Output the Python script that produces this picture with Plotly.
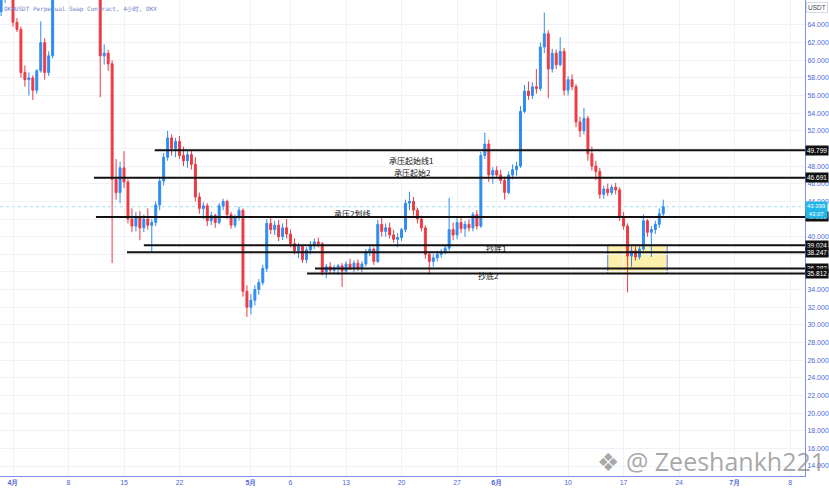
import pandas as pd
import plotly.graph_objects as go

# 12-hour candles, Mar 30 12:00 -> Jun 21 12:00 (2024)
opens = [65.5, 67.2, 67.8,
         67.0, 64.3, 63.5, 58.6, 57.8, 58.0, 56.6, 58.8, 62.0, 58.6,
         60.5, 67.0, 68.5, 69.6, 70.4, 71.8, 71.2, 70.0, 69.2, 69.8, 70.6, 70.0,
         68.6, 60.5, 60.8, 59.6,
         46.5, 45.0, 47.8, 46.2, 42.0, 41.2, 42.3, 41.0, 42.0, 41.3, 41.6, 43.6, 46.3, 49.0, 51.2, 50.0,
         50.8, 49.2, 48.6, 49.3, 48.2, 44.5, 43.2, 43.5, 41.8, 42.4, 41.6, 43.5, 44.0, 42.5, 41.3, 42.2,
         43.0, 33.8,
         32.0, 32.8, 34.0, 34.8, 36.4, 41.5, 40.8, 41.3, 40.0, 41.0, 40.3, 39.2, 38.4, 38.9, 37.4, 38.5,
         39.0, 39.4, 39.2, 36.0, 36.6, 36.2, 36.5, 36.7, 36.1, 36.9, 36.5, 37.0, 36.4, 36.9, 38.3, 38.6,
         37.2, 41.4, 40.6, 41.0, 40.2, 39.7, 39.9, 40.8, 43.8, 44.0, 43.0, 42.0, 41.0, 38.0, 37.2, 37.6,
         38.0, 38.3, 38.7, 40.8, 40.2, 41.6, 40.9, 41.4, 41.0, 42.5, 41.2, 49.2, 50.5, 47.0, 47.5,
         47.0, 46.4, 45.0, 47.0, 47.6, 48.0, 54.2, 56.5, 56.0, 57.0, 56.8, 61.5, 63.0, 59.0, 60.8, 59.5,
         61.0, 56.6, 57.8, 57.0, 53.0, 52.0, 53.4, 49.4, 48.0, 47.4, 44.8, 45.4, 45.0, 45.6, 45.3, 42.3,
         41.2, 37.8, 38.4, 37.7, 38.6, 41.8, 40.5, 40.8, 41.4, 42.6]
highs = [67.5, 68.5, 68.2,
         67.3, 64.8, 63.8, 59.4, 58.6, 58.3, 59.0, 64.4, 62.5, 61.0,
         67.5, 69.0, 70.0, 71.0, 72.5, 73.0, 72.0, 71.0, 70.5, 71.2, 71.5, 70.8,
         69.0, 61.8, 61.2, 60.0,
         48.8, 48.5, 49.7, 46.5, 43.2, 42.8, 42.9, 42.5, 43.2, 42.0, 44.0, 46.8, 49.5, 52.0, 51.6, 51.2,
         51.4, 50.2, 49.8, 49.9, 49.0, 45.0, 43.9, 43.8, 42.8, 42.6, 43.8, 44.3, 44.2, 42.8, 42.5, 43.4,
         43.2, 34.5,
         33.5, 34.5, 35.2, 36.8, 42.0, 42.1, 41.8, 41.9, 41.5, 42.0, 40.8, 39.8, 39.3, 39.0, 38.8, 39.5,
         39.8, 39.9, 39.4, 36.9, 37.1, 36.8, 36.9, 37.0, 37.2, 37.5, 37.3, 37.4, 37.2, 38.6, 39.0, 38.8,
         41.9, 42.2, 41.5, 41.6, 40.8, 40.4, 41.0, 44.2, 45.1, 44.5, 43.3, 42.4, 41.3, 38.3, 38.0, 38.4,
         38.6, 39.0, 44.4, 41.6, 42.2, 42.3, 41.8, 42.0, 42.8, 43.0, 49.6, 51.8, 51.0, 47.9, 48.0,
         47.6, 46.8, 47.4, 48.2, 48.5, 54.8, 57.2, 57.6, 57.5, 59.0, 62.0, 65.4, 63.4, 61.3, 61.2, 62.6,
         61.4, 58.2, 58.4, 57.3, 53.6, 54.6, 53.7, 50.2, 48.6, 47.8, 45.8, 46.0, 45.9, 46.1, 45.6, 42.8,
         41.5, 38.9, 38.9, 38.9, 42.5, 42.0, 41.2, 41.8, 43.2, 44.2]
lows = [65.0, 66.5, 66.9,
        63.8, 63.2, 58.0, 57.0, 56.0, 55.5, 56.2, 58.6, 57.8, 58.2,
        60.2, 66.9, 67.8, 68.9, 69.8, 70.5, 69.5, 68.5, 68.2, 69.0, 69.4, 68.0,
        55.8, 59.5, 58.8, 37.0,
        44.2, 43.8, 45.5, 41.5, 40.5, 40.6, 39.6, 40.5, 40.8, 38.2, 41.2, 43.0, 45.8, 48.6, 49.2, 49.0,
        48.8, 48.0, 47.8, 47.6, 44.0, 42.6, 42.0, 41.2, 41.3, 41.0, 41.4, 43.0, 42.0, 40.9, 41.0, 41.8,
        33.2, 30.9,
        31.2, 32.2, 33.4, 34.5, 36.0, 40.3, 40.2, 39.5, 39.6, 39.8, 38.8, 38.0, 37.6, 37.0, 37.0, 38.0,
        38.6, 38.8, 35.6, 35.3, 35.8, 35.8, 35.7, 34.3, 35.9, 36.2, 36.0, 36.1, 36.0, 36.6, 37.8, 36.8,
        37.0, 40.0, 40.0, 39.8, 39.3, 38.8, 39.5, 40.5, 43.0, 42.4, 41.5, 40.6, 37.5, 35.7, 36.6, 37.2,
        37.6, 38.0, 38.4, 39.6, 39.7, 40.4, 40.0, 40.6, 40.6, 40.8, 41.0, 48.8, 46.2, 46.0, 46.6,
        46.0, 44.2, 44.8, 46.5, 46.9, 47.8, 54.0, 55.5, 55.6, 56.2, 56.5, 60.8, 55.7, 58.6, 59.0, 59.3,
        56.0, 56.0, 56.6, 52.4, 51.3, 51.6, 48.6, 47.5, 46.4, 44.3, 44.3, 44.6, 44.7, 44.8, 41.8, 40.8,
        33.7, 36.6, 37.3, 37.4, 38.4, 40.0, 37.7, 40.3, 41.0, 42.3]
closes = [67.2, 67.8, 67.0,
          64.3, 63.5, 58.6, 57.8, 58.0, 56.6, 58.8, 62.0, 58.6, 60.5,
          67.0, 68.5, 69.6, 70.4, 71.8, 71.2, 70.0, 69.2, 69.8, 70.6, 70.0, 68.6,
          60.5, 60.8, 59.6, 46.5,
          45.0, 47.8, 46.2, 42.0, 41.2, 42.3, 41.0, 42.0, 41.3, 41.6, 43.6, 46.3, 49.0, 51.2, 50.0, 50.8,
          49.2, 48.6, 49.3, 48.2, 44.5, 43.2, 43.5, 41.8, 42.4, 41.6, 43.5, 44.0, 42.5, 41.3, 42.2, 43.0,
          33.8, 32.0,
          32.8, 34.0, 34.8, 36.4, 41.5, 40.8, 41.3, 40.0, 41.0, 40.3, 39.2, 38.4, 38.9, 37.4, 38.5, 39.0,
          39.4, 39.2, 36.0, 36.6, 36.2, 36.5, 36.7, 36.1, 36.9, 36.5, 37.0, 36.4, 36.9, 38.3, 38.6, 37.2,
          41.4, 40.6, 41.0, 40.2, 39.7, 39.9, 40.8, 43.8, 44.0, 43.0, 42.0, 41.0, 38.0, 37.2, 37.6, 38.0,
          38.3, 38.7, 40.8, 40.2, 41.6, 40.9, 41.4, 41.0, 42.5, 41.2, 49.2, 50.5, 47.0, 47.5, 47.0,
          46.4, 45.0, 47.0, 47.6, 48.0, 54.2, 56.5, 56.0, 57.0, 56.8, 61.5, 63.0, 59.0, 60.8, 59.5, 61.0,
          56.6, 57.8, 57.0, 53.0, 52.0, 53.4, 49.4, 48.0, 47.4, 44.8, 45.4, 45.0, 45.6, 45.3, 42.3, 41.2,
          37.8, 38.4, 37.7, 38.6, 41.8, 40.5, 40.8, 41.4, 42.6, 43.399]

dates = pd.date_range("2024-03-30 12:00", periods=len(closes), freq="12h")

# horizontal levels (value, start date)
level_values = [49.799, 46.691, 42.236, 39.024, 38.247, 36.382, 35.812]
level_starts = ["2024-04-18 21:00", "2024-04-11 05:00", "2024-04-11 11:00",
                "2024-04-17 12:00", "2024-04-15 09:00", "2024-05-09 02:00", "2024-05-08 02:00"]

note_texts = ["承压起始线1", "承压起始2", "承压2划线", "抄底1", "抄底2"]
note_dates = ["2024-05-21 05:00", "2024-05-21 08:00", "2024-05-13 18:00",
              "2024-05-31 22:00", "2024-05-31 00:00"]
note_prices = [48.69, 47.22, 42.68, 38.62, 35.62]

y_ticks = list(range(14, 66, 2))
x_tick_dates = ["2024-04-01", "2024-04-08", "2024-04-15", "2024-04-22", "2024-05-01",
                "2024-05-06", "2024-05-13", "2024-05-20", "2024-05-27", "2024-06-01",
                "2024-06-10", "2024-06-17", "2024-06-24", "2024-07-01", "2024-07-08"]
x_tick_text = ["<b>4月</b>", "8", "15", "22", "<b>5月</b>", "6", "13", "20", "27",
               "<b>6月</b>", "10", "17", "24", "<b>7月</b>", "8"]

X_START = "2024-03-30 08:40"
X_END = "2024-07-09 21:00"
BLUE_TXT = "#4f66d6"

fig = go.Figure()
fig.add_trace(go.Candlestick(
    x=dates, open=opens, high=highs, low=lows, close=closes,
    increasing=dict(line=dict(color="#2f8cf0", width=1), fillcolor="#2f8cf0"),
    decreasing=dict(line=dict(color="#ec3b43", width=1), fillcolor="#ec3b43"),
    whiskerwidth=0, showlegend=False, hoverinfo="skip"))

shapes = []
# current price line
shapes.append(dict(type="line", xref="x", yref="y", x0=X_START, x1=X_END,
                   y0=closes[-1], y1=closes[-1],
                   line=dict(color="rgba(40,190,230,0.45)", width=1, dash="dot"), layer="below"))
# yellow zone
shapes.append(dict(type="rect", xref="x", yref="y", x0="2024-06-15 00:00", x1="2024-06-22 12:00",
                   y0=35.812, y1=39.024, fillcolor="rgba(250,228,100,0.55)",
                   line=dict(color="#5b7be0", width=1), layer="below"))
for v, s in zip(level_values, level_starts):
    shapes.append(dict(type="line", xref="x", yref="y", x0=s, x1=X_END, y0=v, y1=v,
                       line=dict(color="#111111", width=2)))

annotations = []
for t, d, p in zip(note_texts, note_dates, note_prices):
    annotations.append(dict(x=d, y=p, xref="x", yref="y", text=t, showarrow=False,
                            font=dict(family="Noto Sans CJK SC", size=8, color="#111111")))
for v in level_values:
    annotations.append(dict(x=1, y=v, xref="paper", yref="y", xanchor="left", xshift=0,
                            text=f"{v:.3f}", showarrow=False, bgcolor="#111111",
                            borderpad=1, font=dict(family="Liberation Sans", size=6.5, color="white")))
annotations.append(dict(x=1, y=closes[-1], xref="paper", yref="y", xanchor="left", xshift=0,
                        yshift=-3, text=f"{closes[-1]:.3f}<br>43:07", showarrow=False,
                        bgcolor="#22b5e6", borderpad=1,
                        font=dict(family="Liberation Sans", size=6, color="white")))
annotations.append(dict(x=1, y=1, xref="paper", yref="paper", xanchor="left", yanchor="top",
                        xshift=1, yshift=-2, text="USDT", showarrow=False,
                        bordercolor="#d5d9e6", borderwidth=1, borderpad=1, bgcolor="white",
                        font=dict(family="Liberation Sans", size=6.5, color="#444")))
annotations.append(dict(x=0, y=1, xref="paper", yref="paper", xanchor="left", yanchor="top",
                        xshift=2, yshift=-3,
                        text="OKBUSDT Perpetual Swap Contract, 4小时, OKX", showarrow=False,
                        font=dict(family="DejaVu Sans Mono, Noto Sans CJK SC", size=6, color="#6f7fc8")))
annotations.append(dict(x=1, y=0, xref="paper", yref="paper", xanchor="right", yanchor="bottom",
                        xshift=22, yshift=-4,
                        text="❖ @ Zeeshankh221", showarrow=False,
                        font=dict(family="Open Sans, DejaVu Sans", size=25, color="rgba(140,140,140,0.75)")))

fig.update_layout(
    width=829, height=489,
    margin=dict(l=0, r=24, t=0, b=13),
    paper_bgcolor="white", plot_bgcolor="white",
    shapes=shapes, annotations=annotations,
    xaxis=dict(type="date", range=[X_START, X_END], rangeslider=dict(visible=False),
               tickvals=x_tick_dates, ticktext=x_tick_text, showgrid=True,
               gridcolor="#f0f2f7", gridwidth=1, showline=True, linecolor="#7d90e8",
               linewidth=1, ticks="", tickfont=dict(family="Liberation Sans", size=7, color=BLUE_TXT),
               zeroline=False, automargin=False, fixedrange=True),
    yaxis=dict(side="right", range=[12.87, 66.83], tickvals=y_ticks,
               ticktext=[f"{v:.3f}" for v in y_ticks], showgrid=True, gridcolor="#f0f2f7",
               showline=True, linecolor="#7d90e8", linewidth=1, ticks="",
               tickfont=dict(family="Liberation Sans", size=7, color=BLUE_TXT),
               zeroline=False, automargin=False, fixedrange=True),
    hovermode=False,
)

fig.write_html("out.html", config={"displayModeBar": False},
               post_script="document.body.style.margin='0';document.body.style.overflow='hidden';")
